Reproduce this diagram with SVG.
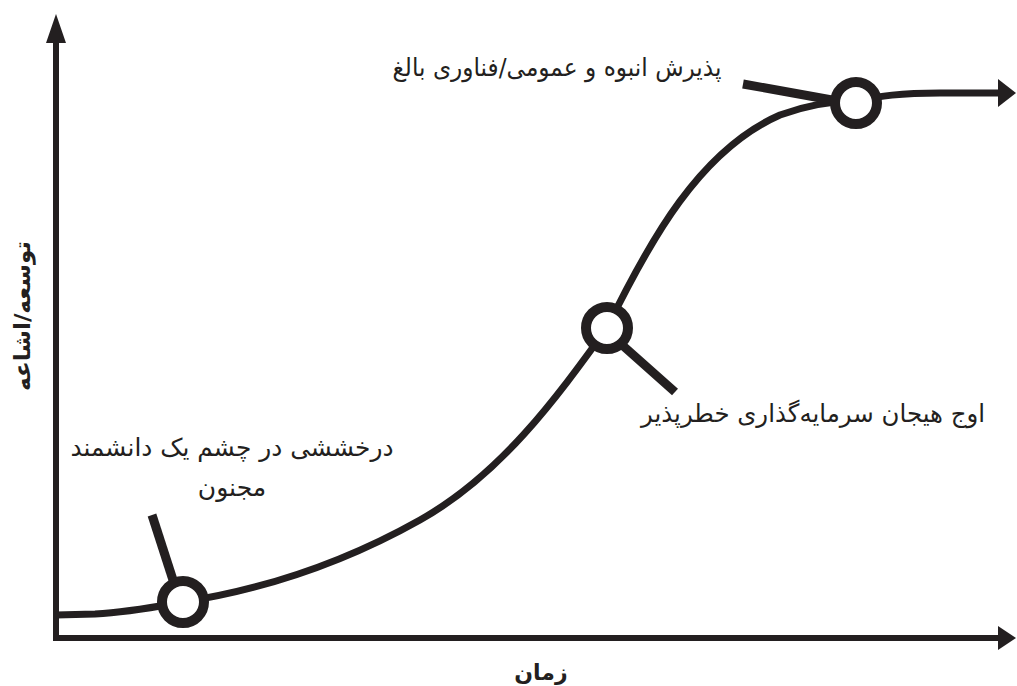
<svg xmlns="http://www.w3.org/2000/svg" width="1017" height="686" viewBox="0 0 1017 686">
<defs>
<style>
.ax{stroke:#231f20;stroke-width:6;fill:none}
.curve{stroke:#231f20;stroke-width:7;fill:none}
.lead{stroke:#231f20;stroke-width:9;fill:none}
.node{stroke:#231f20;stroke-width:10;fill:#fff}
.head{fill:#231f20}
.lbl{font-family:"DejaVu Sans","Noto Sans",sans-serif;font-size:25px;fill:#231f20;text-anchor:middle}
.axl{font-family:"DejaVu Sans","Noto Sans",sans-serif;font-size:22px;font-weight:bold;fill:#231f20;text-anchor:middle}
</style>
</defs>
<rect width="1017" height="686" fill="#fff"/>
<g id="axes">
<line class="ax" x1="56" y1="641" x2="56" y2="40"/>
<polygon class="head" points="56,14 66,43 46,43"/>
<line class="ax" x1="53" y1="638" x2="1000" y2="638"/>
<polygon class="head" points="1016,638 998,626 998,650"/>
<text class="axl" transform="translate(30,316) rotate(-90)" textLength="150" lengthAdjust="spacingAndGlyphs">توسعه/اشاعه</text>
<text class="axl" x="541" y="680">زمان</text>
</g>
<g id="connectors">
<path class="curve" d="M56,615 L95,614 C130,612 160,606 183,602 C260,590 340,565 420,520 C500,475 555,400 607,328 C650,240 700,150 780,115 C810,104 835,101 856,101 C880,96 900,93 940,93 L1000,93"/>
<polygon class="head" points="1016,93 998,79 998,107"/>
<line class="lead" x1="152" y1="515" x2="173" y2="580"/>
<line class="lead" x1="621" y1="344" x2="675" y2="392"/>
<line class="lead" x1="743" y1="84" x2="832" y2="100"/>
</g>
<g id="node1">
<circle class="node" cx="183" cy="602" r="21"/>
<text class="lbl" x="232" y="456" textLength="323" lengthAdjust="spacingAndGlyphs">درخششی در چشم یک دانشمند</text>
<text class="lbl" x="232" y="496">مجنون</text>
</g>
<g id="node2">
<circle class="node" cx="607" cy="328" r="21"/>
<text class="lbl" x="813" y="422" textLength="344" lengthAdjust="spacingAndGlyphs">اوج هیجان سرمایه‌گذاری خطرپذیر</text>
</g>
<g id="node3">
<circle class="node" cx="856" cy="103" r="21"/>
<text class="lbl" x="557" y="76" textLength="329" lengthAdjust="spacingAndGlyphs">پذیرش انبوه و عمومی/فناوری بالغ</text>
</g>
</svg>
